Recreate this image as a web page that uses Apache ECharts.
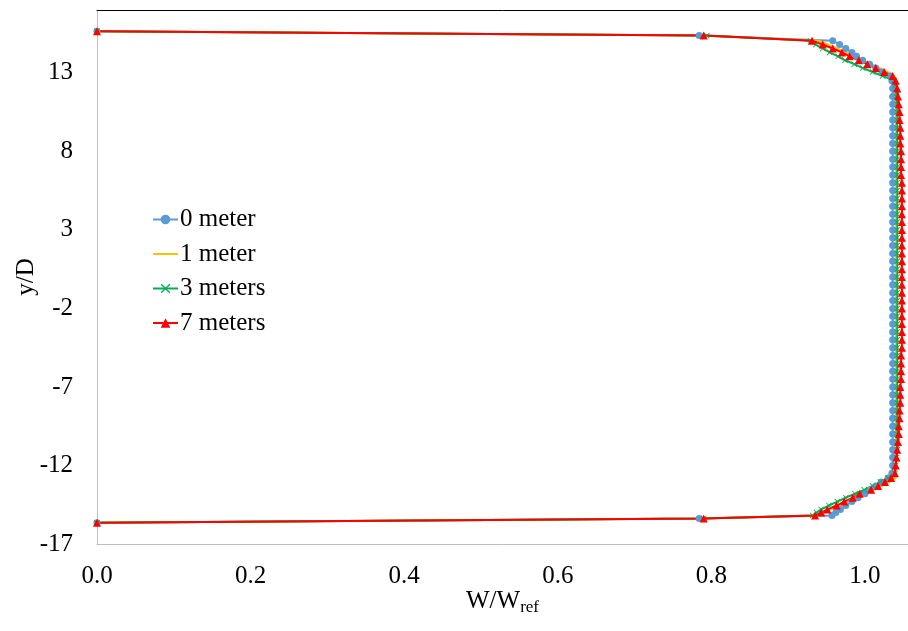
<!DOCTYPE html>
<html>
<head>
<meta charset="utf-8">
<script src="https://cdn.jsdelivr.net/npm/echarts@6/dist/echarts.min.js"></script>
<style>
  html, body { margin: 0; padding: 0; background: #fff; }
  #chart { width: 908px; height: 631px; }
</style>
</head>
<body>
<div id="chart"></div>
<script>
// y/D positions shared by every profile (top wall -> bottom wall)
const yD = [
  15.65, 15.37, 15.04, 14.8, 14.55, 14.3, 14.05, 13.8, 13.55, 13.3, 13.05, 12.8,
  12.5, 12, 11.5, 11, 10.5, 10, 9.5, 9, 8.5, 8,
  7.5, 7, 6.5, 6, 5.5, 5, 4.5, 4, 3.5, 3,
  2.5, 2, 1.5, 1, 0.5, 0, -0.5, -1, -1.5, -2,
  -2.5, -3, -3.5, -4, -4.5, -5, -5.5, -6, -6.5, -7,
  -7.5, -8, -8.5, -9, -9.5, -10, -10.5, -11, -11.5, -12,
  -12.5,
  -12.8, -13.05, -13.3, -13.55, -13.8, -14.05, -14.3, -14.55, -14.8, -15.0, -15.18, -15.37, -15.65
]

// W/Wref for each distance
const w0m = [
  0, 0.784, 0.958, 0.967, 0.975, 0.983, 0.989, 0.997, 1.006, 1.014, 1.022, 1.033,
  1.035, 1.036, 1.036, 1.036, 1.036, 1.036, 1.036, 1.036, 1.036, 1.036,
  1.036, 1.036, 1.036, 1.036, 1.036, 1.036, 1.036, 1.036, 1.036, 1.036,
  1.036, 1.036, 1.036, 1.036, 1.036, 1.036, 1.036, 1.036, 1.036, 1.036,
  1.036, 1.036, 1.036, 1.036, 1.036, 1.036, 1.036, 1.036, 1.036, 1.036,
  1.036, 1.036, 1.036, 1.036, 1.036, 1.036, 1.036, 1.036, 1.036, 1.036,
  1.035,
  1.030, 1.021, 1.014, 1.007, 1.000, 0.991, 0.983, 0.975, 0.968, 0.962, 0.957, 0.784, 0
]
const w1m = [
  0, 0.787, 0.940, 0.952, 0.964, 0.975, 0.986, 0.997, 1.008, 1.019, 1.030, 1.038,
  1.039, 1.040, 1.040, 1.040, 1.040, 1.040, 1.040, 1.040, 1.040, 1.040,
  1.040, 1.040, 1.040, 1.040, 1.040, 1.040, 1.040, 1.040, 1.040, 1.040,
  1.040, 1.040, 1.040, 1.040, 1.040, 1.040, 1.040, 1.040, 1.040, 1.040,
  1.040, 1.040, 1.040, 1.040, 1.040, 1.040, 1.040, 1.040, 1.040, 1.040,
  1.040, 1.040, 1.040, 1.040, 1.040, 1.040, 1.040, 1.040, 1.040, 1.040,
  1.039,
  1.040, 1.032, 1.022, 1.011, 0.999, 0.988, 0.977, 0.966, 0.955, 0.946, 0.938, 0.787, 0
]
const w3m = [
  0, 0.794, 0.929, 0.936, 0.945, 0.954, 0.965, 0.974, 0.986, 0.997, 1.010, 1.023,
  1.038, 1.040, 1.041, 1.042, 1.042, 1.042, 1.042, 1.042, 1.042, 1.042,
  1.042, 1.042, 1.042, 1.042, 1.042, 1.042, 1.042, 1.042, 1.042, 1.042,
  1.042, 1.042, 1.042, 1.042, 1.042, 1.042, 1.042, 1.042, 1.042, 1.042,
  1.042, 1.042, 1.042, 1.042, 1.042, 1.042, 1.042, 1.042, 1.042, 1.042,
  1.042, 1.042, 1.042, 1.042, 1.042, 1.042, 1.042, 1.042, 1.041, 1.040,
  1.039,
  1.030, 1.020, 1.010, 0.999, 0.987, 0.975, 0.964, 0.953, 0.943, 0.937, 0.932, 0.790, 0
]
const w7m = [
  0, 0.790, 0.931, 0.945, 0.958, 0.970, 0.980, 0.992, 1.003, 1.014, 1.025, 1.036,
  1.040, 1.042, 1.043, 1.044, 1.045, 1.045, 1.046, 1.046, 1.046, 1.047,
  1.047, 1.047, 1.047, 1.048, 1.048, 1.048, 1.048, 1.048, 1.048, 1.048,
  1.048, 1.048, 1.048, 1.048, 1.048, 1.048, 1.048, 1.048, 1.048, 1.048,
  1.048, 1.048, 1.048, 1.048, 1.048, 1.047, 1.047, 1.047, 1.047, 1.046,
  1.046, 1.046, 1.045, 1.045, 1.044, 1.044, 1.043, 1.042, 1.041, 1.040,
  1.039,
  1.034, 1.026, 1.017, 1.008, 0.993, 0.984, 0.973, 0.963, 0.951, 0.943, 0.935, 0.790, 0
]

const seriesNames = ['0 meter', '1 meter', '3 meters', '7 meters']

const font = 'Liberation Serif, Times New Roman, serif'
const crossPath = 'path://M0,1L1,0L5,4L9,0L10,1L6,5L10,9L9,10L5,6L1,10L0,9L4,5Z'
// plain line for the legend entry without markers (tiny corner dots keep the box size)
const plainLineIcon = 'path://M0,0L0.01,0L0.01,0.01Z M0,5L25,5L25,7L0,7Z M0,12L0.01,12L0.01,11.99Z'

const toPoints = (w) => yD.map((y, i) => [w[i], y])

const chart = echarts.init(document.getElementById('chart'))

const option = {
  animation: false,
  backgroundColor: '#fff',
  grid: {
    left: 97,
    right: 0,
    top: 10,
    bottom: 87,
    outerBoundsMode: 'none'
  },
  legend: {
    orient: 'vertical',
    left: 147,
    top: 202,
    itemWidth: 25,
    itemHeight: 12,
    itemGap: 9.5,
    textStyle: { fontFamily: font, fontSize: 25, color: '#000', padding: [0, 0, 0, -3] },
    data: [
      seriesNames[0],
      { name: seriesNames[1], icon: plainLineIcon },
      seriesNames[2],
      seriesNames[3]
    ]
  },
  xAxis: [
    {
      type: 'value',
      min: 0,
      max: 1.056,
      interval: 0.2,
      name: '{a|W/W}{b|ref}',
      nameLocation: 'middle',
      nameGap: 43,
      nameMoveOverlap: false,
      nameTextStyle: {
        rich: {
          a: { fontFamily: font, fontSize: 25, color: '#000' },
          b: { fontFamily: font, fontSize: 17, color: '#000', padding: [12, 0, 0, 0] }
        }
      },
      axisLine: { onZero: false, lineStyle: { color: '#bfbfbf', width: 1 } },
      axisTick: { show: false },
      splitLine: { show: false },
      axisLabel: {
        fontFamily: font,
        fontSize: 25,
        color: '#000',
        margin: 20,
        showMaxLabel: false,
        formatter: (v) => v.toFixed(1)
      }
    },
    {
      type: 'value',
      position: 'top',
      min: 0,
      max: 1.056,
      axisLine: { show: true, onZero: false, lineStyle: { color: '#000', width: 1 } },
      axisTick: { show: false },
      axisLabel: { show: false },
      splitLine: { show: false }
    }
  ],
  yAxis: {
    type: 'value',
    min: -17,
    max: 17,
    interval: 5,
    name: 'y/D',
    nameLocation: 'middle',
    nameRotate: 90,
    nameGap: 58,
    nameMoveOverlap: false,
    nameTextStyle: { fontFamily: font, fontSize: 25, color: '#000' },
    axisLine: { show: true, onZero: false, lineStyle: { color: '#bfbfbf', width: 1 } },
    axisTick: { show: false },
    splitLine: { show: false },
    axisLabel: {
      fontFamily: font,
      fontSize: 25,
      color: '#000',
      margin: 24,
      showMaxLabel: false
    }
  },
  series: [
    {
      name: seriesNames[0],
      type: 'line',
      data: toPoints(w0m),
      symbol: 'circle',
      symbolSize: 7,
      lineStyle: { color: '#5b9bd5', width: 2 },
      itemStyle: { color: '#5b9bd5' }
    },
    {
      name: seriesNames[1],
      type: 'line',
      data: toPoints(w1m),
      symbol: 'none',
      lineStyle: { color: '#ffc000', width: 2 },
      itemStyle: { color: '#ffc000' }
    },
    {
      name: seriesNames[2],
      type: 'line',
      data: toPoints(w3m),
      symbol: crossPath,
      symbolSize: 6,
      lineStyle: { color: '#00b050', width: 2 },
      itemStyle: { color: '#00b050' }
    },
    {
      name: seriesNames[3],
      type: 'line',
      data: toPoints(w7m),
      symbol: 'triangle',
      symbolSize: 8,
      lineStyle: { color: '#ff0000', width: 2 },
      itemStyle: { color: '#ff0000' }
    }
  ]
}

chart.setOption(option)
</script>
</body>
</html>
